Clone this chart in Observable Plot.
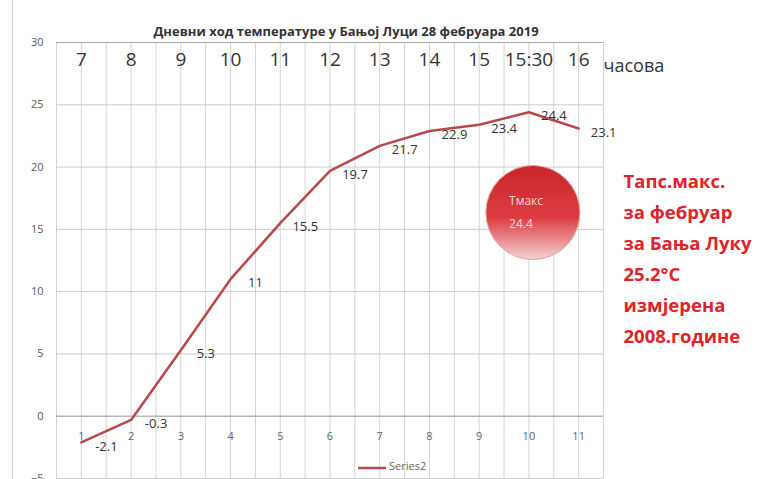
<!DOCTYPE html>
<html>
<head>
<meta charset="utf-8">
<script src="https://cdn.jsdelivr.net/npm/d3@7"></script>
<script src="https://cdn.jsdelivr.net/npm/@observablehq/plot@0.6"></script>
<style>
  html, body { margin: 0; padding: 0; background: #fff; }
  #wrap { position: relative; width: 769px; height: 479px; overflow: hidden; }
  #edge { position: absolute; left: 12px; top: 0; width: 1px; height: 479px; background: #cfcfcf; }
</style>
</head>
<body>
<div id="wrap"><div id="edge"></div></div>
<script>
const categories = [1, 2, 3, 4, 5, 6, 7, 8, 9, 10, 11];
const hours = ["7", "8", "9", "10", "11", "12", "13", "14", "15", "15:30", "16"];
const temps = [-2.1, -0.3, 5.3, 11, 15.5, 19.7, 21.7, 22.9, 23.4, 24.4, 23.1];
const yTicks = [-5, 0, 5, 10, 15, 20, 25, 30];
const title = "Дневни ход температуре у Бањој Луци 28 фебруара 2019";
const hoursUnit = "часова";
const seriesName = "Series2";
const noteLines = ["Тапс.макс.", "за фебруар", "за Бања Луку", "25.2°C", "измјерена", "2008.године"];
const tmaxLabel = ["Тмакс", "24.4"];

const data = categories.map((c, i) => ({c, hour: hours[i], t: temps[i]}));
const halfGrid = d3.range(0.5, 11.51, 0.5);
const lineColor = "#b9474b";

const chart = Plot.plot({
  width: 769,
  height: 479,
  marginTop: 42,
  marginBottom: 1,
  marginLeft: 56,
  marginRight: 166,
  style: {fontFamily: "'Open Sans', 'Liberation Sans', sans-serif", background: "#fff"},
  x: {domain: [0.5, 11.5], axis: null},
  y: {domain: [-5, 30], axis: null},
  marks: [
    Plot.ruleX(halfGrid, {stroke: "#d4d4d4", strokeWidth: 1}),
    Plot.ruleY(yTicks, {stroke: "#cccccc", strokeWidth: 1}),
    Plot.ruleY([0, 30], {stroke: "#a8a8a8", strokeWidth: 1}),
    Plot.axisY(yTicks, {tickSize: 0, tickPadding: 13, fontSize: 11, fill: "#595959", label: null}),
    // category numbers below the 0 line
    Plot.text(data, {x: "c", y: () => 0, text: d => String(d.c), dy: 20, fontSize: 11, fill: "#666"}),
    // hour header row
    Plot.text(data, {x: "c", y: () => 30, text: "hour", dy: 17, fontSize: 19, fill: "#333"}),
    Plot.text([hoursUnit], {frameAnchor: "top-right", textAnchor: "start", dx: 0, dy: 17, fontSize: 18, fill: "#333"}),
    // title
    Plot.text([title], {frameAnchor: "top", dx: 16, dy: -16, fontSize: 13, fontWeight: "bold", fill: "#333"}),
    // bubble
    Plot.dot([{x: 10.08, y: 16.35}], {x: "x", y: "y", r: 47, fill: "url(#bubbleGrad)", stroke: "#e8a0a0", strokeWidth: 1}),
    Plot.text([tmaxLabel.join("\n")], {x: () => 9.6, y: () => 16.6, textAnchor: "start", lineHeight: 1.85, fontSize: 12, fill: "#f6dada"}),
    // line
    Plot.line(data, {x: "c", y: "t", stroke: lineColor, strokeWidth: 2.5}),
    Plot.text(data, {x: "c", y: "t", text: d => String(d.t), dx: 25, dy: 4, fontSize: 13, fill: "#333"}),
    // note on the right
    Plot.text([noteLines.join("\n")], {frameAnchor: "top-right", textAnchor: "start", lineAnchor: "top", dx: 20, dy: 124, lineHeight: 1.67, fontSize: 18.5, fontWeight: "bold", fill: "#e0232b"}),
    // legend
    Plot.text([seriesName], {frameAnchor: "bottom", textAnchor: "start", dx: 59, dy: -9, fontSize: 11, fill: "#666"})
  ]
});

// gradient defs for the bubble
const ns = "http://www.w3.org/2000/svg";
const defs = document.createElementNS(ns, "defs");
defs.innerHTML = `
  <linearGradient id="bubbleGrad" x1="0" y1="0" x2="0" y2="1">
    <stop offset="0" stop-color="#c9262b"/>
    <stop offset="0.55" stop-color="#dc3c40"/>
    <stop offset="1" stop-color="#f4d2d2"/>
  </linearGradient>`;
chart.insertBefore(defs, chart.firstChild);
// legend swatch using the line colour
const sw = document.createElementNS(ns, "line");
sw.setAttribute("x1", 358); sw.setAttribute("x2", 386);
sw.setAttribute("y1", 468); sw.setAttribute("y2", 468);
sw.setAttribute("stroke", lineColor); sw.setAttribute("stroke-width", 2.5);
chart.appendChild(sw);

document.getElementById("wrap").appendChild(chart);
</script>
</body>
</html>
